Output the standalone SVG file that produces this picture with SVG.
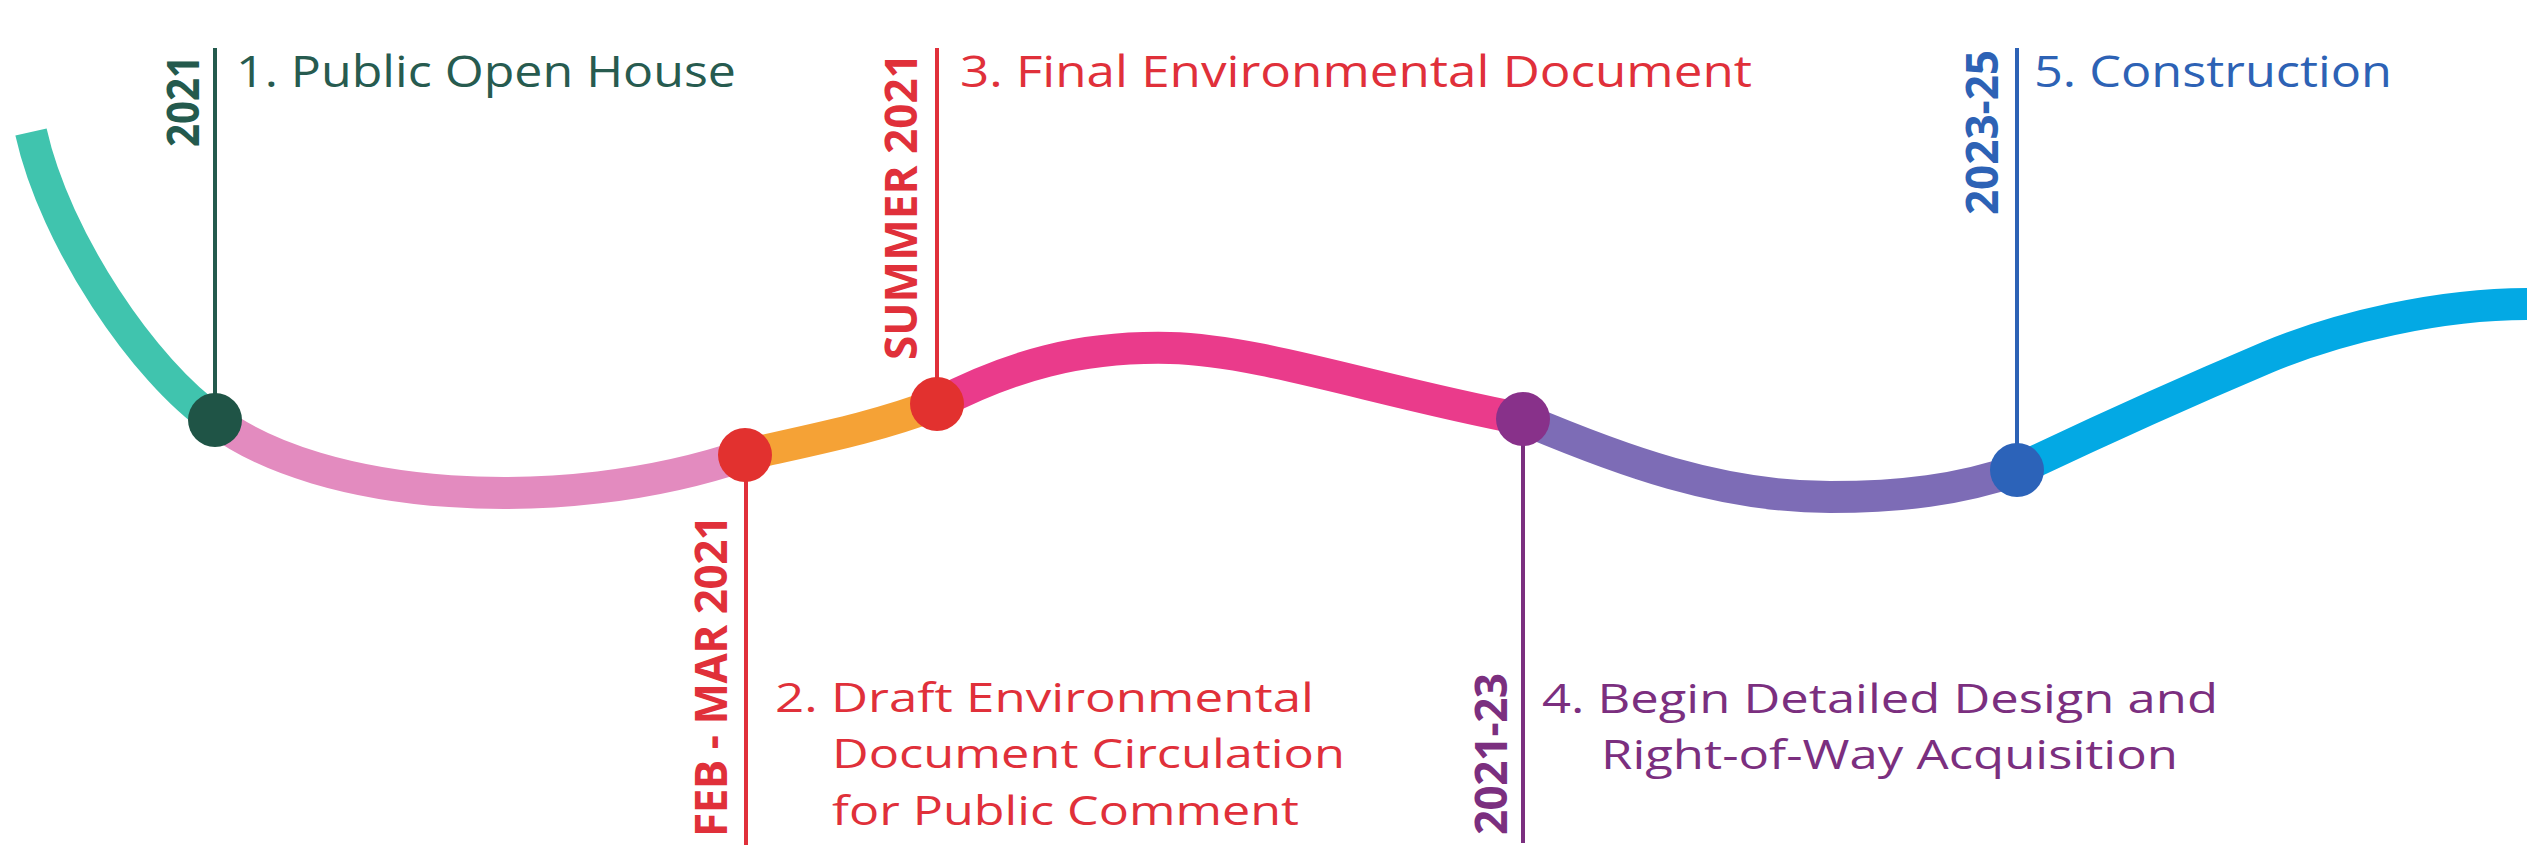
<svg xmlns="http://www.w3.org/2000/svg" width="2534" height="850" viewBox="0 0 2534 850">
<style>
  .seg { fill: none; stroke-width: 32; stroke-linecap: butt; }
  .stem { stroke-width: 4; }
  .title { font-family: "Open Sans", "Noto Sans", "Liberation Sans", sans-serif; font-size: 44px; font-weight: 500; }
  .multi { font-size: 41px; }
  .date { font-family: "Open Sans", "Noto Sans", "Liberation Sans", sans-serif; font-size: 44px; font-weight: 700; }
</style>
<rect x="0" y="0" width="2534" height="850" fill="#ffffff"/>
<g id="connectors">
  <path class="seg" stroke="#40c4ae" d="M31,132 C55,240 145,372 215,420"/>
  <path class="seg" stroke="#e38bbf" d="M215,420 C320,500 560,518 745,455"/>
  <path class="seg" stroke="#f5a236" d="M745,455 C810,440 875,428 937,404"/>
  <path class="seg" stroke="#ea3b8b" d="M937,404 C1010,366 1080,346 1170,348 C1260,350 1380,392 1523,419"/>
  <path class="seg" stroke="#7d6cb6" d="M1523,419 C1620,460 1720,497 1830,497 C1900,497 1960,490 2017,470"/>
  <path class="seg" stroke="#03a9e4" d="M2017,470 C2080,440 2190,390 2268,357 C2340,327 2440,304 2527,304"/>
</g>
<g id="node1">
  <line class="stem" x1="215" y1="48" x2="215" y2="420" stroke="#245a4d"/>
  <circle cx="215" cy="420" r="27" fill="#1f5446"/>
  <text class="date" fill="#245a4d" transform="translate(199,147) rotate(-90)" textLength="92" lengthAdjust="spacingAndGlyphs">2021</text>
  <text class="title" fill="#275b4f" x="236" y="87" textLength="500" lengthAdjust="spacingAndGlyphs">1. Public Open House</text>
</g>
<g id="node2">
  <line class="stem" x1="746" y1="455" x2="746" y2="845" stroke="#e0303a"/>
  <circle cx="745" cy="455" r="27" fill="#e2312f"/>
  <text class="date" fill="#e0303a" transform="translate(727,837) rotate(-90)" textLength="322">FEB - MAR 2021</text>
  <text class="title multi" fill="#e0303a"><tspan x="775" y="712" textLength="539" lengthAdjust="spacingAndGlyphs">2. Draft Environmental</tspan><tspan x="832" y="768" textLength="513" lengthAdjust="spacingAndGlyphs">Document Circulation</tspan><tspan x="832" y="825" textLength="467" lengthAdjust="spacingAndGlyphs">for Public Comment</tspan></text>
</g>
<g id="node3">
  <line class="stem" x1="937" y1="48" x2="937" y2="404" stroke="#e0303a"/>
  <circle cx="937" cy="404" r="27" fill="#e2312f"/>
  <text class="date" fill="#e0303a" transform="translate(917,360) rotate(-90)" textLength="307">SUMMER 2021</text>
  <text class="title" fill="#e0303a" x="960" y="87" textLength="792" lengthAdjust="spacingAndGlyphs">3. Final Environmental Document</text>
</g>
<g id="node4">
  <line class="stem" x1="1523" y1="419" x2="1523" y2="843" stroke="#7b2f7f"/>
  <circle cx="1523" cy="419" r="27" fill="#88318a"/>
  <text class="date" fill="#7b2f7f" transform="translate(1507,835) rotate(-90)" textLength="162">2021-23</text>
  <text class="title multi" fill="#7b2f7f"><tspan x="1542" y="713" textLength="676" lengthAdjust="spacingAndGlyphs">4. Begin Detailed Design and</tspan><tspan x="1601" y="769" textLength="577" lengthAdjust="spacingAndGlyphs">Right-of-Way Acquisition</tspan></text>
</g>
<g id="node5">
  <line class="stem" x1="2017" y1="48" x2="2017" y2="470" stroke="#2d62b5"/>
  <circle cx="2017" cy="470" r="27" fill="#2c63b9"/>
  <text class="date" fill="#2d62b5" transform="translate(1998,215) rotate(-90)" textLength="165">2023-25</text>
  <text class="title" fill="#2d62b5" x="2034" y="87" textLength="358" lengthAdjust="spacingAndGlyphs">5. Construction</text>
</g>
</svg>
